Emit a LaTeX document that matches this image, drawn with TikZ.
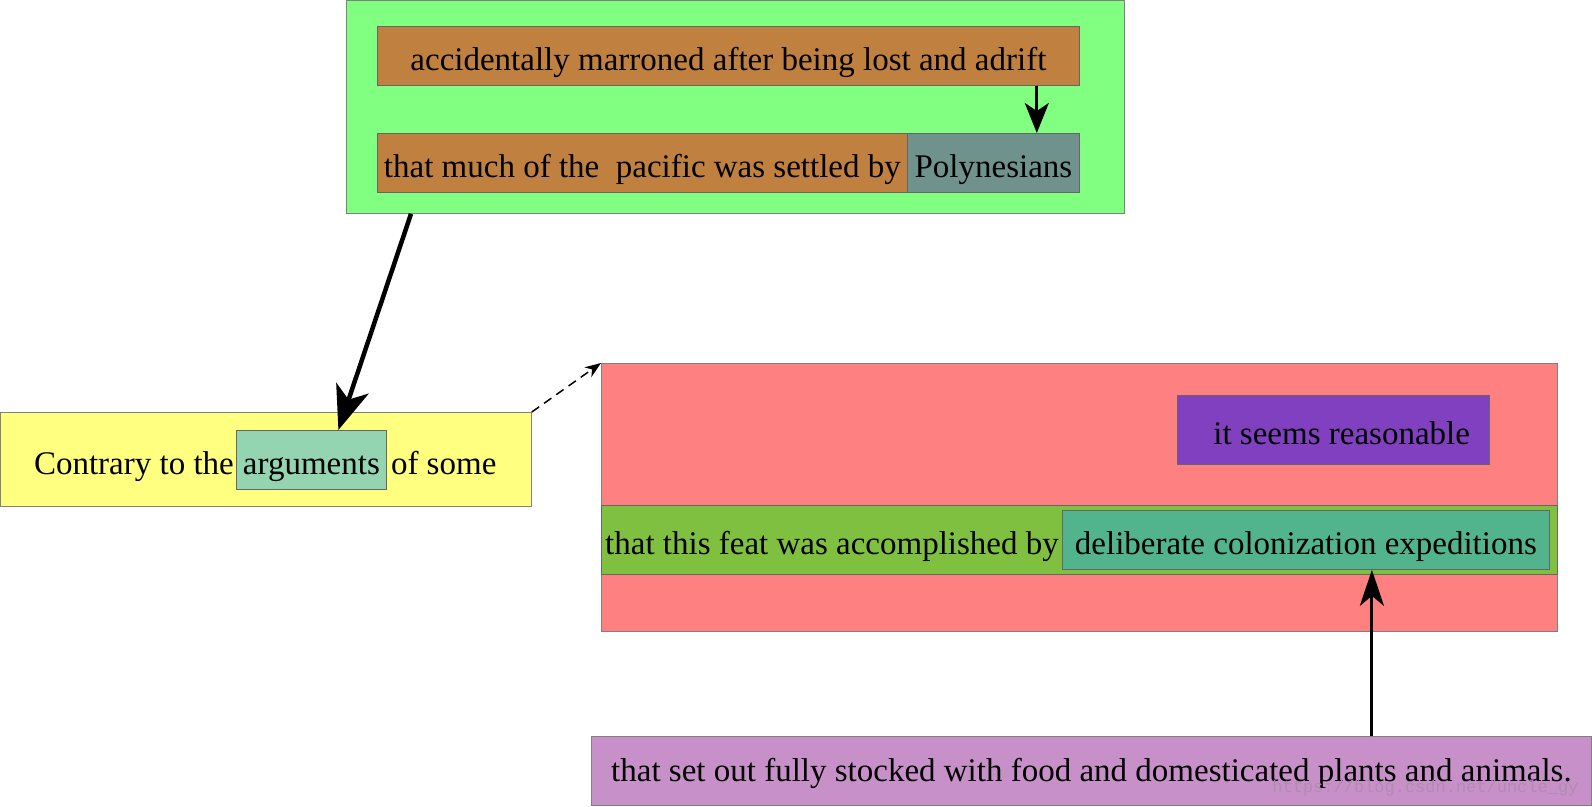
\documentclass[tikz,border=0pt]{standalone}
\usepackage{fontspec}
\setmainfont{Liberation Serif}
\newfontfamily\wmfont{Liberation Mono}
\usetikzlibrary{arrows.meta}

\definecolor{grnbg}{RGB}{128,255,128}
\definecolor{brownbg}{RGB}{192,128,64}
\definecolor{polybg}{RGB}{112,146,140}
\definecolor{yelbg}{RGB}{255,255,128}
\definecolor{argbg}{RGB}{148,212,176}
\definecolor{redbg}{RGB}{255,128,128}
\definecolor{purpbg}{RGB}{128,64,192}
\definecolor{featbg}{RGB}{128,192,64}
\definecolor{tealbg}{RGB}{82,180,140}
\definecolor{pinkbg}{RGB}{200,144,200}

\tikzset{
  box/.style={draw=gray, line width=0.8pt, anchor=north west, inner sep=0pt},
  inbox/.style={draw=black!60, line width=0.8pt, anchor=north west, inner sep=0pt},
  txt/.style={inner sep=3pt, text height=35pt, text depth=6pt, font=\fontsize{33}{40}\selectfont},
  bigarrow/.style={line width=4.5pt, -{Stealth[length=44pt, width=34pt, inset=12pt]}},
}

\begin{document}
\begin{tikzpicture}[x=1pt, y=-1pt]
    \useasboundingbox (0,0) rectangle (1592,806);

    % Top group
    \node[box, fill=grnbg, minimum width=778, minimum height=213] (grn) at (346,0) {};
    \node[inbox, fill=brownbg, minimum width=702, minimum height=59, txt, inner sep=0pt] (drift) at (377,26) {accidentally marroned after being lost and adrift};
    \node[inbox, fill=brownbg, minimum width=530, minimum height=59, txt, inner sep=0pt] (settle) at (377,133) {that much of the\ \ pacific was settled by};
    \node[inbox, fill=polybg, minimum width=172, minimum height=59, txt, inner sep=0pt] (poly) at (907,133) {Polynesians};

    % Left group
    \node[box, fill=yelbg, minimum width=531, minimum height=94] (yel) at (0,412) {};
    \node[inbox, fill=argbg, minimum width=150, minimum height=59, txt, inner sep=0pt] (args) at (236,430) {arguments};
    \node[txt, anchor=east, inner sep=2pt] (contr) at (args.west) {Contrary to the};
    \node[txt, anchor=west, inner sep=4pt] (some) at (args.east) {of some};

    % Right group
    \node[box, fill=redbg, minimum width=956, minimum height=268] (red) at (601,363) {};
    \node[inbox, fill=purpbg, minimum width=312, minimum height=69, txt, inner sep=0pt] (reason) at (1177,395) {\ \ it seems reasonable};
    \node[inbox, fill=featbg, minimum width=956, minimum height=69] (feat) at (601,505) {};
    \node[inbox, fill=tealbg, minimum width=487, minimum height=59, txt, inner sep=0pt] (delib) at (1062,510) {deliberate colonization expeditions};
    \node[txt, anchor=east, inner sep=3pt] (accomp) at (delib.west) {that this feat was accomplished by};

    % Bottom group
    \node[box, fill=pinkbg, minimum width=1000, minimum height=69, txt, text height=27pt, inner sep=0pt] (stock) at (591,736) {that set out fully stocked with food and domesticated plants and animals.};
    \node[anchor=east, text=gray!30!pinkbg, font=\wmfont\fontsize{17}{20}\selectfont] (wm) at (1582,788) {https://blog.csdn.net/uncle\_gy};

    % Connectors
    \draw[line width=3pt, -{Stealth[length=30pt, width=24pt, inset=8pt]}] ([xshift=-43]drift.south east) -- ([xshift=-43]poly.north east);
    \draw[bigarrow] ([xshift=65]grn.south west) -- ([xshift=27]args.north);
    \draw[line width=1.5pt, dash pattern=on 9pt off 6pt, -{Stealth[length=16pt, width=12pt, inset=5pt]}] (yel.north east) -- (red.north west);
    \coordinate (tip) at ([xshift=66]delib.south);
    \draw[line width=3pt, -{Stealth[length=36pt, width=24pt, inset=10pt]}] (stock.north -| tip) -- (tip);
\end{tikzpicture}
\end{document}
